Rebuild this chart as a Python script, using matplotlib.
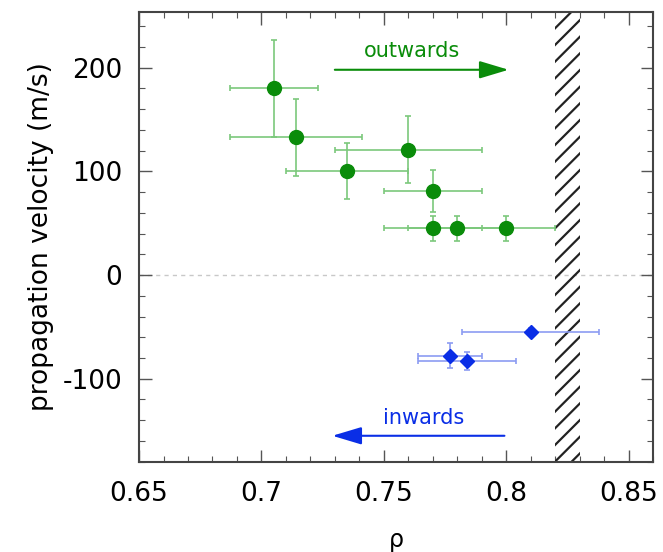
import matplotlib
matplotlib.use('Agg')
import matplotlib.pyplot as plt
from matplotlib.ticker import MultipleLocator

# outward propagating points (green)
out_rho = [0.705, 0.714, 0.735, 0.760, 0.770, 0.770, 0.780, 0.800]
out_v = [180, 133, 100, 121, 81, 45, 45, 45]
out_rho_err = [0.018, 0.027, 0.025, 0.030, 0.020, 0.020, 0.020, 0.020]
out_v_err = [47, 37, 27, 32, 20, 12, 12, 12]

# inward propagating points (blue)
in_rho = [0.810, 0.777, 0.784]
in_v = [-55, -78, -83]
in_rho_err = [0.028, 0.013, 0.020]
in_v_err = [4, 12, 9]

# hatched band
band = [0.82, 0.83]

plt.rcParams['font.family'] = ['DejaVu Sans']
plt.rcParams['hatch.linewidth'] = 1.6
plt.rcParams['axes.unicode_minus'] = False

fig = plt.figure(figsize=(6.63, 5.52), dpi=100)
ax = fig.add_axes([0.2097, 0.1636, 0.7752, 0.8152])

green = '#0a8c0a'
green_l = '#7cc87c'
blue = '#0a2ee6'
blue_l = '#8c9cf2'

ax.axhline(0, color='#c8c8c8', linestyle=(0, (3, 3)), linewidth=1, zorder=1)
ax.axvspan(band[0], band[1], facecolor='none', edgecolor='#222222', hatch='//', linewidth=0, zorder=2)

ax.errorbar(out_rho, out_v, xerr=out_rho_err, yerr=out_v_err, fmt='o', color=green,
            ecolor=green_l, elinewidth=1.2, capsize=2.5, capthick=1.2, markersize=10, zorder=3)
ax.errorbar(in_rho, in_v, xerr=in_rho_err, yerr=in_v_err, fmt='D', color=blue,
            ecolor=blue_l, elinewidth=1.2, capsize=2.5, capthick=1.2, markersize=7, zorder=3)

ax.annotate('', xy=(0.801, 198), xytext=(0.730, 198),
            arrowprops=dict(arrowstyle='-|>,head_length=1.5,head_width=0.45', mutation_scale=12,
                            color=green, linewidth=1.5, shrinkA=0, shrinkB=0))
ax.text(0.7617, 216, 'outwards', color=green, fontsize=15, ha='center', va='center')

ax.annotate('', xy=(0.729, -155), xytext=(0.7993, -155),
            arrowprops=dict(arrowstyle='-|>,head_length=1.5,head_width=0.45', mutation_scale=12,
                            color=blue, linewidth=1.5, shrinkA=0, shrinkB=0))
ax.text(0.7663, -138, 'inwards', color=blue, fontsize=15, ha='center', va='center')

ax.set_xlim(0.65, 0.86)
ax.set_ylim(-180, 254)
ax.xaxis.set_major_locator(MultipleLocator(0.05))
ax.xaxis.set_minor_locator(MultipleLocator(0.01))
ax.yaxis.set_major_locator(MultipleLocator(100))
ax.yaxis.set_minor_locator(MultipleLocator(20))
ax.set_xticks([0.65, 0.7, 0.75, 0.8, 0.85])
ax.set_xticklabels(['0.65', '0.7', '0.75', '0.8', '0.85'])

ax.tick_params(which='both', direction='in', top=True, right=True, colors='#555555',
               labelcolor='black')
ax.tick_params(which='major', length=9, width=1, labelsize=19)
ax.tick_params(axis='x', which='major', pad=14)
ax.tick_params(axis='y', which='major', pad=12)
ax.tick_params(which='minor', length=4.5, width=0.8)
for s in ax.spines.values():
    s.set_color('#444444')
    s.set_linewidth(1.5)

ax.set_xlabel('ρ', fontsize=17, labelpad=15)
ax.set_ylabel('propagation velocity (m/s)', fontsize=19, labelpad=6)

fig.savefig('out.png', dpi=100)
